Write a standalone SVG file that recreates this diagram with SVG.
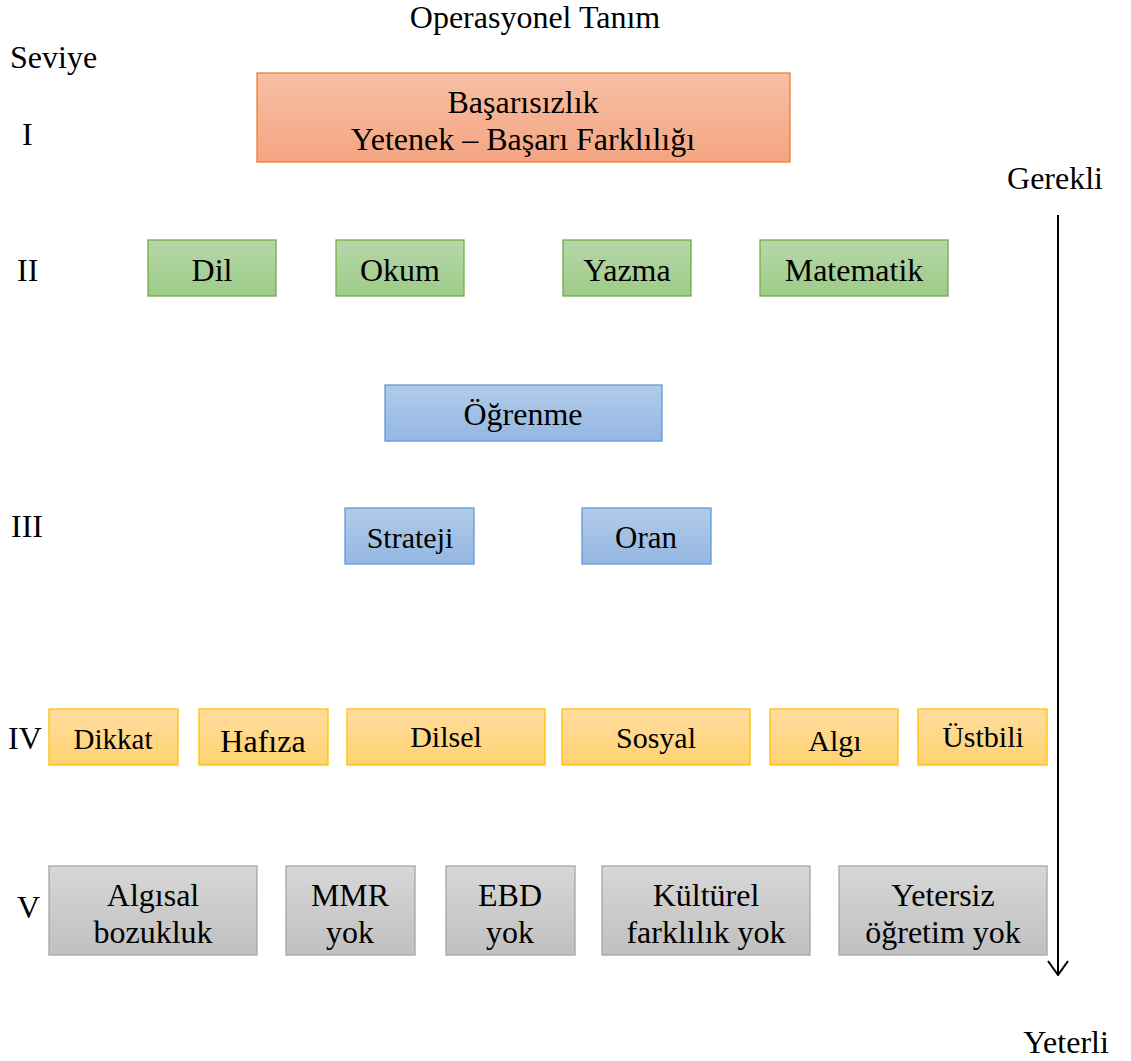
<svg xmlns="http://www.w3.org/2000/svg" width="1131" height="1061" viewBox="0 0 1131 1061">
<defs>
<linearGradient id="gO" x1="0" y1="0" x2="0" y2="1"><stop offset="0" stop-color="#f7bfa4"/><stop offset="1" stop-color="#f4a582"/></linearGradient>
<linearGradient id="gG" x1="0" y1="0" x2="0" y2="1"><stop offset="0" stop-color="#b7d7a9"/><stop offset="1" stop-color="#9dcb88"/></linearGradient>
<linearGradient id="gB" x1="0" y1="0" x2="0" y2="1"><stop offset="0" stop-color="#b2cbe9"/><stop offset="1" stop-color="#94b7e2"/></linearGradient>
<linearGradient id="gY" x1="0" y1="0" x2="0" y2="1"><stop offset="0" stop-color="#ffdd9f"/><stop offset="1" stop-color="#ffd271"/></linearGradient>
<linearGradient id="gK" x1="0" y1="0" x2="0" y2="1"><stop offset="0" stop-color="#d7d7d7"/><stop offset="1" stop-color="#c0c0c0"/></linearGradient>
<marker id="arr" markerWidth="16" markerHeight="24" refX="15" refY="12" orient="auto" markerUnits="userSpaceOnUse" viewBox="0 0 16 24">
<path d="M1,2 L15,12 L1,22" fill="none" stroke="#000" stroke-width="2"/>
</marker>
<style>
text{font-family:Liberation Serif,DejaVu Serif,serif;fill:#000;}
.t{font-size:32px;text-anchor:middle;}
.s{font-size:30px;text-anchor:middle;}
.l{font-size:32px;}
.o{fill:url(#gO);stroke:#ed7d31;stroke-width:1.3;}
.g{fill:url(#gG);stroke:#70ad47;stroke-width:1.3;}
.b{fill:url(#gB);stroke:#5b9bd5;stroke-width:1.3;}
.y{fill:url(#gY);stroke:#ffc000;stroke-width:1.3;}
.k{fill:url(#gK);stroke:#a5a5a5;stroke-width:1.3;}
</style>
</defs>
<rect width="1131" height="1061" fill="#fff"/>
<g id="labels">
<text class="t" x="535" y="28">Operasyonel Tanım</text>
<text class="l" x="10" y="68">Seviye</text>
<text class="l" x="22" y="145">I</text>
<text class="l" x="17" y="281">II</text>
<text class="l" x="11" y="537">III</text>
<text class="l" x="8" y="749">IV</text>
<text class="l" x="17" y="918">V</text>
<text class="t" x="1055" y="189">Gerekli</text>
<text class="t" x="1066" y="1053">Yeterli</text>
</g>
<g id="connectors">
<line x1="1058" y1="215" x2="1058" y2="975" stroke="#000" stroke-width="2" marker-end="url(#arr)"/>
</g>
<g id="n-basarisizlik"><rect class="o" x="257" y="73" width="533" height="89"/><text class="t" x="523" y="113">Başarısızlık</text><text class="t" x="523" y="150">Yetenek – Başarı Farklılığı</text></g>
<g id="n-dil"><rect class="g" x="148" y="240" width="128" height="56"/><text class="t" x="212" y="281">Dil</text></g>
<g id="n-okum"><rect class="g" x="336" y="240" width="128" height="56"/><text class="t" x="400" y="281">Okum</text></g>
<g id="n-yazma"><rect class="g" x="563" y="240" width="128" height="56"/><text class="t" x="627" y="281">Yazma</text></g>
<g id="n-matematik"><rect class="g" x="760" y="240" width="188" height="56"/><text class="t" x="854" y="281">Matematik</text></g>
<g id="n-ogrenme"><rect class="b" x="385" y="385" width="277" height="56"/><text class="t" x="523" y="425">Öğrenme</text></g>
<g id="n-strateji"><rect class="b" x="345" y="508" width="129" height="56"/><text class="s" x="410" y="548">Strateji</text></g>
<g id="n-oran"><rect class="b" x="582" y="508" width="129" height="56"/><text class="s" x="646" y="548" style="font-size:31px">Oran</text></g>
<g id="n-dikkat"><rect class="y" x="49" y="709" width="129" height="56"/><text class="s" x="113" y="749" style="font-size:29px">Dikkat</text></g>
<g id="n-hafiza"><rect class="y" x="199" y="709" width="129" height="56"/><text class="s" x="263" y="752" style="font-size:32px">Hafıza</text></g>
<g id="n-dilsel"><rect class="y" x="347" y="709" width="198" height="56"/><text class="s" x="446" y="747">Dilsel</text></g>
<g id="n-sosyal"><rect class="y" x="562" y="709" width="188" height="56"/><text class="s" x="656" y="748">Sosyal</text></g>
<g id="n-algi"><rect class="y" x="770" y="709" width="128" height="56"/><text class="s" x="835" y="751">Algı</text></g>
<g id="n-ustbili"><rect class="y" x="918" y="709" width="129" height="56"/><text class="s" x="983" y="747">Üstbili</text></g>
<g id="n-algisal"><rect class="k" x="49" y="866" width="208" height="89"/><text class="t" x="153" y="906">Algısal</text><text class="t" x="153" y="943">bozukluk</text></g>
<g id="n-mmr"><rect class="k" x="286" y="866" width="129" height="89"/><text class="t" x="350" y="906">MMR</text><text class="t" x="350" y="943">yok</text></g>
<g id="n-ebd"><rect class="k" x="446" y="866" width="129" height="89"/><text class="t" x="510" y="906">EBD</text><text class="t" x="510" y="943">yok</text></g>
<g id="n-kulturel"><rect class="k" x="602" y="866" width="208" height="89"/><text class="t" x="706" y="906">Kültürel</text><text class="t" x="706" y="943">farklılık yok</text></g>
<g id="n-yetersiz"><rect class="k" x="839" y="866" width="208" height="89"/><text class="t" x="943" y="906">Yetersiz</text><text class="t" x="943" y="943">öğretim yok</text></g>
</svg>
